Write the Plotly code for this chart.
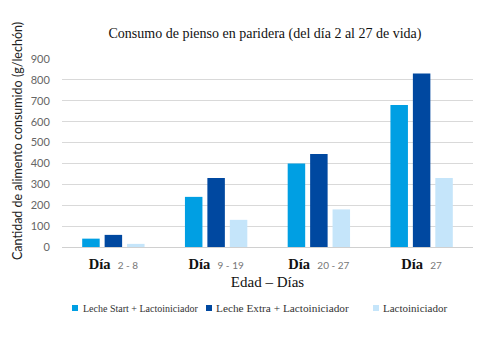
import plotly.graph_objects as go

categories = ["2 - 8", "9 - 19", "20 - 27", "27"]
series_names = ["Leche Start + Lactoiniciador", "Leche Extra + Lactoiniciador", "Lactoiniciador"]
leche_start = [40, 240, 400, 680]
leche_extra = [58, 330, 445, 830]
lactoiniciador = [15, 130, 180, 330]
colors = ["#009FE3", "#0048A0", "#C5E5FA"]
y_ticks = [0, 100, 200, 300, 400, 500, 600, 700, 800, 900]

cat_labels = [
    "<b><span style='font-size:14.5px;color:#111'>Día</span></b>  "
    "<span style='font-size:10px;color:#777;font-family:Lato'>%s</span>" % c
    for c in categories
]

fig = go.Figure()
for name, vals, col in zip(series_names, [leche_start, leche_extra, lactoiniciador], colors):
    fig.add_trace(go.Bar(x=cat_labels, y=vals, name=name, marker_color=col,
                         marker_line_width=0, showlegend=False))

W, H = 500, 339
ml, mr, mt, mb = 62, 27, 59, 92

fig.update_layout(
    width=W, height=H,
    margin=dict(l=ml, r=mr, t=mt, b=mb),
    paper_bgcolor="white", plot_bgcolor="white",
    barmode="group", bargap=0.345, bargroupgap=0.22,
    font=dict(family="Liberation Serif", color="#222"),
    title=dict(text="Consumo de pienso en paridera (del día 2 al 27 de vida)",
               x=265 / W, xanchor="center", y=1 - 33 / H, yanchor="middle",
               font=dict(family="Liberation Serif", size=14, color="#111")),
    xaxis=dict(showgrid=False, showline=True, linecolor="#D0D0D0", linewidth=1,
               tickfont=dict(family="Liberation Serif", size=14.5),
               ticks="outside", ticklen=4, tickcolor="rgba(0,0,0,0)",
               title=dict(text="Edad – Días", standoff=5,
                          font=dict(family="Liberation Serif", size=15, color="#111"))),
    yaxis=dict(range=[0, 900], tickvals=y_ticks, showgrid=True, gridcolor="#D9D9D9",
               gridwidth=1, zeroline=False,
               tickfont=dict(family="Lato", size=11, color="#666"),
               ticks="outside", ticklen=9, tickcolor="rgba(0,0,0,0)"),
)

# Y axis title as annotation (positioned like the reference)
fig.add_annotation(text="Cantidad de alimento consumido (g/lechón)", textangle=-90,
                   xref="paper", yref="paper",
                   x=(17 - ml) / (W - ml - mr), y=1 - (141 - mt) / (H - mt - mb),
                   xanchor="center", yanchor="middle", showarrow=False,
                   font=dict(family="Lato", size=12.5, color="#222"))

# Custom legend
legend_items = [(72, 81, 10), (206, 214, 11.3), (373, 381, 11)]
ly = 308
pw, ph = W - ml - mr, H - mt - mb
def px(x):
    return (x - ml) / pw
def py(y):
    return 1 - (y - mt) / ph
for (sx, tx, fs), name, col in zip(legend_items, series_names, colors):
    fig.add_shape(type="rect", xref="paper", yref="paper",
                  x0=px(sx), x1=px(sx + 6), y0=py(ly + 3), y1=py(ly - 3),
                  fillcolor=col, line_width=0)
    fig.add_annotation(text=name, xref="paper", yref="paper", x=px(tx), y=py(ly),
                       xanchor="left", yanchor="middle", showarrow=False,
                       font=dict(family="Liberation Serif", size=fs, color="#333"))

fig.write_html("out.html")
